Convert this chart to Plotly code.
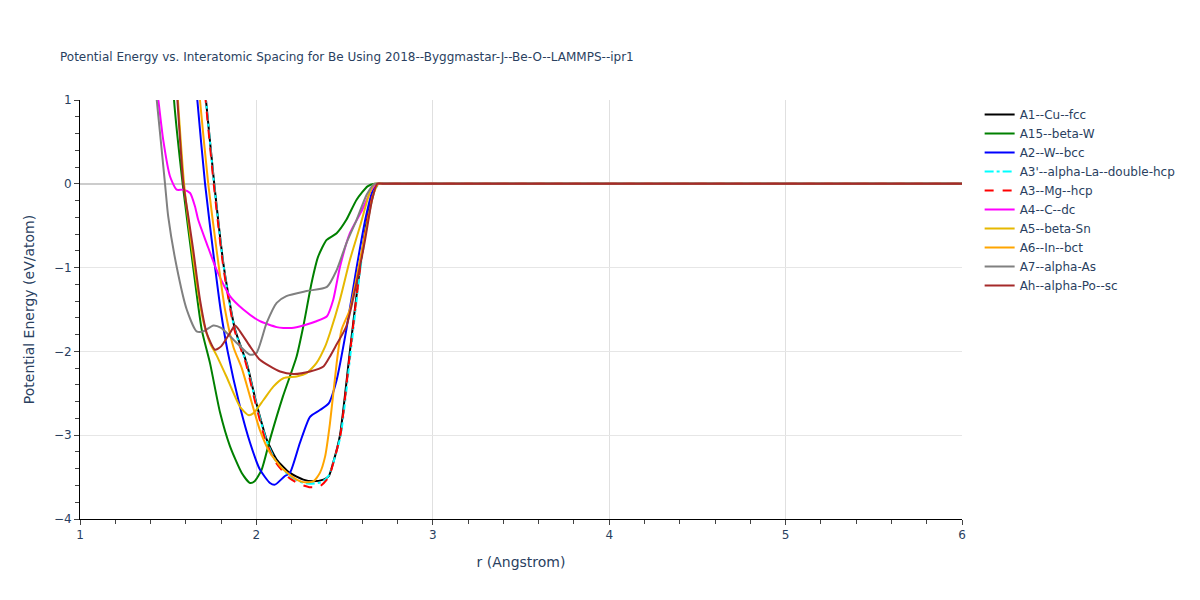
import plotly.graph_objects as go

title = "Potential Energy vs. Interatomic Spacing for Be Using 2018--Byggmastar-J--Be-O--LAMMPS--ipr1"

names = ["A1--Cu--fcc", "A15--beta-W", "A2--W--bcc", "A3'--alpha-La--double-hcp", "A3--Mg--hcp",
         "A4--C--dc", "A5--beta-Sn", "A6--In--bct", "A7--alpha-As", "Ah--alpha-Po--sc"]

r_fcc = [1.69, 1.714, 1.761, 1.816, 1.879, 1.945, 2.0, 2.058, 2.115, 2.19, 2.266, 2.32, 2.38, 2.41, 2.435, 2.474, 2.53, 2.587, 2.63, 2.665, 2.69, 2.72, 6.0]
e_fcc = [1.5, 1.0, 0.0, -1.0, -1.74, -2.14, -2.62, -3.05, -3.29, -3.45, -3.53, -3.55, -3.53, -3.49, -3.33, -3.0, -2.0, -1.0, -0.4, -0.08, 0.0, 0.0, 0.0]

r_a15 = [1.52, 1.533, 1.582, 1.642, 1.69, 1.737, 1.794, 1.85, 1.917, 1.964, 1.99, 2.03, 2.077, 2.15, 2.228, 2.266, 2.313, 2.35, 2.398, 2.455, 2.51, 2.568, 2.63, 2.67, 2.72, 6.0]
e_a15 = [1.5, 1.0, 0.0, -1.0, -1.74, -2.14, -2.73, -3.13, -3.45, -3.57, -3.55, -3.41, -3.05, -2.54, -2.06, -1.70, -1.18, -0.87, -0.67, -0.59, -0.43, -0.19, -0.03, 0.0, 0.0, 0.0]

r_bcc = [1.645, 1.665, 1.709, 1.76, 1.797, 1.837, 1.907, 1.964, 2.02, 2.077, 2.105, 2.16, 2.19, 2.247, 2.304, 2.36, 2.41, 2.455, 2.51, 2.568, 2.62, 2.66, 2.69, 2.72, 6.0]
e_bcc = [1.5, 1.0, 0.0, -0.9, -1.5, -2.0, -2.66, -3.09, -3.41, -3.57, -3.59, -3.49, -3.45, -3.09, -2.78, -2.70, -2.62, -2.34, -1.74, -1.0, -0.4, -0.08, 0.0, 0.0, 0.0]

r_dhcp = [1.69, 1.714, 1.76, 1.815, 1.877, 1.943, 1.998, 2.055, 2.11, 2.185, 2.25, 2.3, 2.37, 2.41, 2.44, 2.478, 2.535, 2.59, 2.635, 2.67, 2.695, 2.72, 6.0]
e_dhcp = [1.5, 1.0, 0.0, -1.0, -1.74, -2.14, -2.62, -3.05, -3.31, -3.48, -3.56, -3.58, -3.56, -3.48, -3.3, -3.0, -2.0, -1.0, -0.4, -0.08, 0.0, 0.0, 0.0]

r_hcp = [1.688, 1.712, 1.758, 1.813, 1.875, 1.94, 1.995, 2.05, 2.105, 2.18, 2.24, 2.3, 2.36, 2.41, 2.44, 2.476, 2.532, 2.588, 2.632, 2.667, 2.69, 2.72, 6.0]
e_hcp = [1.5, 1.0, 0.0, -1.0, -1.74, -2.14, -2.62, -3.05, -3.31, -3.50, -3.58, -3.62, -3.61, -3.50, -3.3, -3.0, -2.0, -1.0, -0.4, -0.08, 0.0, 0.0, 0.0]

r_dc = [1.43, 1.444, 1.472, 1.51, 1.548, 1.586, 1.624, 1.652, 1.67, 1.718, 1.775, 1.85, 1.926, 2.02, 2.115, 2.153, 2.2, 2.266, 2.34, 2.40, 2.436, 2.474, 2.53, 2.60, 2.65, 2.68, 2.72, 6.0]
e_dc = [1.2, 1.0, 0.52, 0.09, -0.07, -0.07, -0.11, -0.27, -0.43, -0.71, -1.03, -1.34, -1.50, -1.64, -1.71, -1.72, -1.72, -1.69, -1.64, -1.58, -1.38, -0.99, -0.59, -0.31, -0.08, 0.0, 0.0, 0.0]

r_sn = [1.54, 1.555, 1.59, 1.63, 1.67, 1.70, 1.737, 1.775, 1.83, 1.907, 1.954, 1.982, 2.04, 2.096, 2.153, 2.228, 2.285, 2.34, 2.39, 2.417, 2.474, 2.53, 2.587, 2.64, 2.67, 2.72, 6.0]
e_sn = [1.5, 1.0, 0.0, -0.7, -1.3, -1.65, -1.90, -2.05, -2.30, -2.66, -2.76, -2.74, -2.58, -2.42, -2.32, -2.30, -2.26, -2.14, -1.94, -1.78, -1.38, -0.91, -0.51, -0.12, 0.0, 0.0, 0.0]

r_in = [1.66, 1.68, 1.727, 1.775, 1.822, 1.87, 1.917, 1.964, 2.02, 2.077, 2.153, 2.228, 2.266, 2.323, 2.36, 2.39, 2.417, 2.455, 2.483, 2.53, 2.587, 2.625, 2.66, 2.69, 2.72, 6.0]
e_in = [1.5, 1.0, 0.0, -0.8, -1.5, -1.95, -2.20, -2.54, -2.94, -3.21, -3.41, -3.53, -3.56, -3.55, -3.45, -3.25, -2.86, -2.14, -1.74, -1.50, -0.91, -0.51, -0.15, 0.0, 0.0, 0.0]

r_as = [1.41, 1.435, 1.482, 1.50, 1.548, 1.605, 1.661, 1.70, 1.756, 1.80, 1.87, 1.964, 2.0, 2.058, 2.115, 2.17, 2.285, 2.40, 2.455, 2.51, 2.568, 2.625, 2.67, 2.72, 6.0]
e_as = [1.5, 1.0, 0.0, -0.39, -0.99, -1.50, -1.76, -1.76, -1.69, -1.72, -1.86, -2.04, -2.02, -1.66, -1.42, -1.34, -1.28, -1.23, -1.03, -0.71, -0.43, -0.13, 0.0, 0.0, 0.0]

r_sc = [1.535, 1.552, 1.586, 1.614, 1.642, 1.68, 1.718, 1.765, 1.80, 1.85, 1.879, 1.907, 1.964, 2.02, 2.134, 2.21, 2.304, 2.38, 2.417, 2.446, 2.51, 2.568, 2.616, 2.655, 2.685, 2.72, 6.0]
e_sc = [1.5, 1.0, 0.0, -0.39, -0.79, -1.38, -1.78, -1.98, -1.94, -1.78, -1.69, -1.76, -1.94, -2.10, -2.24, -2.27, -2.24, -2.18, -2.06, -1.95, -1.70, -1.18, -0.67, -0.2, 0.0, 0.0, 0.0]

xs = [r_fcc, r_a15, r_bcc, r_dhcp, r_hcp, r_dc, r_sn, r_in, r_as, r_sc]
ys = [e_fcc, e_a15, e_bcc, e_dhcp, e_hcp, e_dc, e_sn, e_in, e_as, e_sc]
colors = ["black", "green", "blue", "cyan", "red", "magenta", "#E6B800", "orange", "gray", "brown"]
dashes = ["solid", "solid", "solid", "dashdot", "dash", "solid", "solid", "solid", "solid", "solid"]

fig = go.Figure()
for n, x, y, c, d in zip(names, xs, ys, colors, dashes):
    fig.add_trace(go.Scatter(x=x, y=y, mode="lines", name=n,
                             line=dict(color=c, dash=d, width=2, shape="spline", smoothing=0.6)))

fig.update_layout(
    title=dict(text=title, font=dict(size=12), x=52 / 1200, y=0.925),
    width=1200, height=600,
    margin=dict(l=72, r=246, t=92, b=89, autoexpand=False),
    plot_bgcolor="white", paper_bgcolor="white",
    font=dict(family="DejaVu Sans, Verdana, sans-serif", color="#2a3f5f", size=12),
    xaxis=dict(title=dict(text="r (Angstrom)", font=dict(size=14)), range=[1, 6], showline=True, linecolor="black",
               ticks="outside", tickcolor="#444", gridcolor="#e0e0e0", zeroline=False,
               minor=dict(ticks="outside", dtick=0.2, tickcolor="#444", ticklen=4, showgrid=False)),
    yaxis=dict(title=dict(text="Potential Energy (eV/atom)", font=dict(size=14)), range=[-4, 1], showline=True, linecolor="black",
               ticks="outside", tickcolor="#444", gridcolor="#e6e6e6", zeroline=True,
               zerolinecolor="#cccccc", zerolinewidth=2, dtick=1,
               minor=dict(ticks="outside", dtick=0.2, tickcolor="#444", ticklen=4, showgrid=False)),
    legend=dict(font=dict(size=12)),
)

fig.write_html("out.html")
